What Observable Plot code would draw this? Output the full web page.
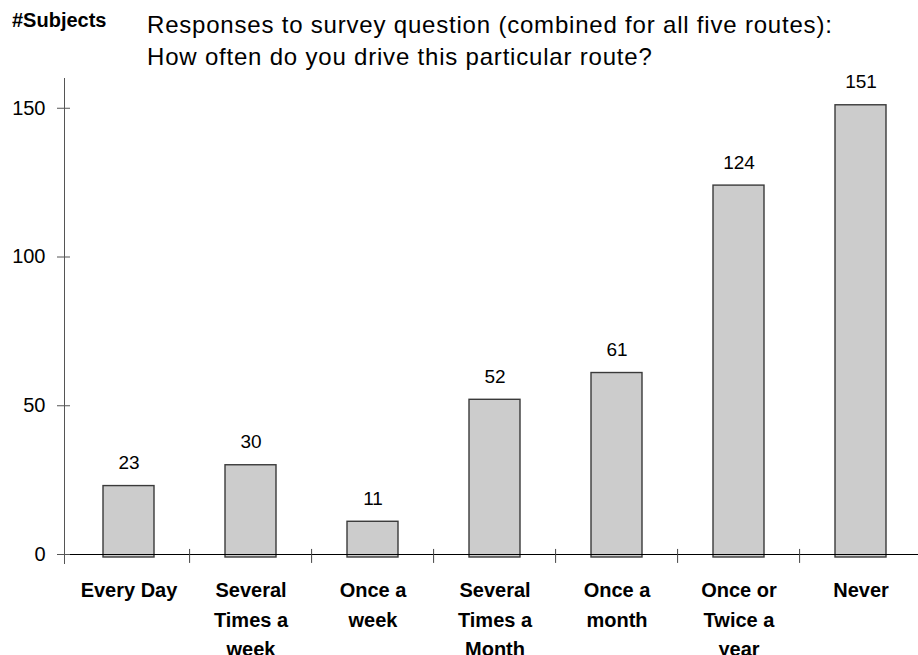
<!DOCTYPE html>
<html><head><meta charset="utf-8">
<script src="https://cdn.jsdelivr.net/npm/d3@7"></script>
<script src="https://cdn.jsdelivr.net/npm/@observablehq/plot@0.6"></script>
<style>
body{margin:0;background:#fff;font-family:"Liberation Sans",Arial,sans-serif;}
#wrap{position:relative;width:918px;height:655px;overflow:hidden;}
#ylab{position:absolute;left:12px;top:9px;font-weight:bold;font-size:20px;line-height:23px;color:#000;}
#title{position:absolute;left:147px;top:9px;font-size:24px;line-height:32px;letter-spacing:0.8px;color:#000;white-space:nowrap;}
#chart{position:absolute;left:0;top:0;}
</style></head><body>
<div id="wrap">
<div id="chart"></div>
<div id="ylab">#Subjects</div>
<div id="title">Responses to survey question (combined for all five routes):<br>How often do you drive this particular route?</div>
</div>
<script>
const categories = ["Every Day","Several Times a week","Once a week","Several Times a Month","Once a month","Once or Twice a year","Never"];
const counts = [23,30,11,52,61,124,151];
const tickLabels = ["Every Day","Several\nTimes a\nweek","Once a\nweek","Several\nTimes a\nMonth","Once a\nmonth","Once or\nTwice a\nyear","Never"];
const yTicks = [0,50,100,150];

const data = categories.map((c,i)=>({category:c,count:counts[i]}));
const xRange = [64.5, 924];
const step = (xRange[1]-xRange[0]) / categories.length;

const chart = Plot.plot({
  width: 918, height: 655,
  marginTop: 78, marginBottom: 101, marginLeft: 64, marginRight: 0,
  style: {fontFamily: "Liberation Sans, Arial, sans-serif", background: "transparent", color: "#000"},
  x: {domain: categories, range: xRange, paddingInner: 0.58, paddingOuter: 0.29},
  y: {domain: [0,160]},
  marks: [
    Plot.frame({anchor: "left", insetBottom: -9, stroke: "#555"}),
    Plot.barY(data, {x: "category", y: "count", fill: "#cccccc", stroke: "#3a3a3a", strokeWidth: 1.4, insetBottom: -3}),
    Plot.ruleY([0], {insetLeft: -7, stroke: "#000"}),
    Plot.ruleX(categories.slice(1), {x: d=>d, y1: 1.7, y2: -3, dx: -step/2, stroke: "#444"}),
    Plot.text(data, {x: "category", y: "count", text: d=>String(d.count), dy: -23, fontSize: 19, fill: "#000"}),
    Plot.axisY({ticks: yTicks, tickSize: 13, dx: 6, tickPadding: 12, fontSize: 20, label: null, stroke: "#555"}),
    Plot.axisX({tickSize: 0, tickPadding: 22, tickFormat: d => tickLabels[categories.indexOf(d)], fontWeight: "bold", fontSize: 20, lineHeight: 1.47, label: null})
  ]
});
document.getElementById("chart").appendChild(chart);
</script>
</body></html>
